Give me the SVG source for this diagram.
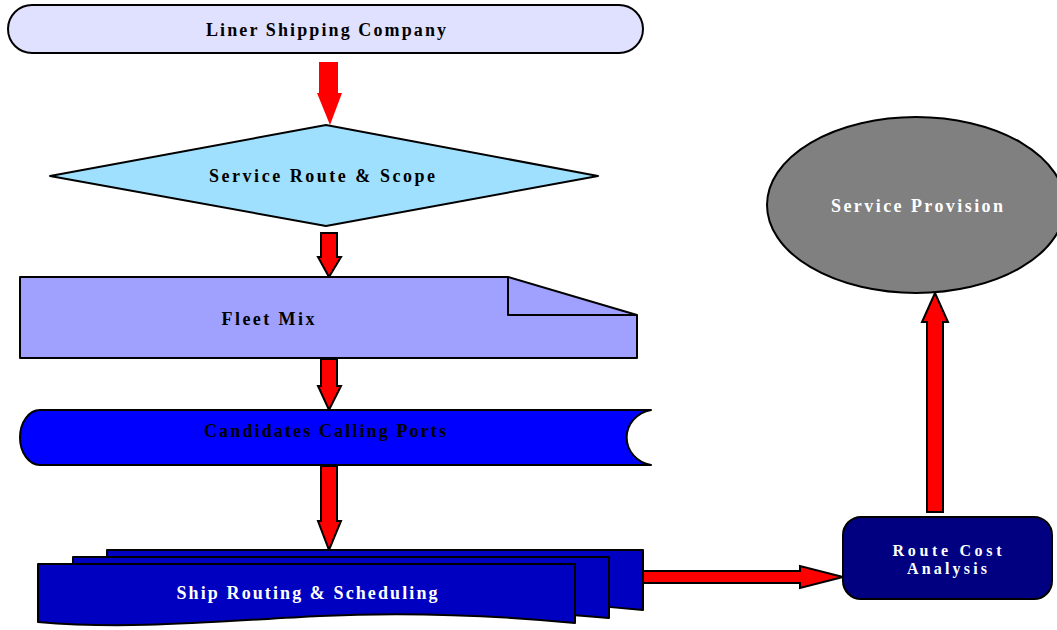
<svg xmlns="http://www.w3.org/2000/svg" width="1057" height="630" viewBox="0 0 1057 630">
<style>
.t{font-family:"Liberation Serif","Times New Roman",serif;font-weight:bold;font-size:18px;text-anchor:middle;dominant-baseline:central}
.r{font-size:16px}
.k{fill:#000}
.w{fill:#fff}
.s{stroke:#000;stroke-width:2;stroke-linejoin:round}
.a{fill:#ff0000;stroke:#000;stroke-width:2;stroke-linejoin:miter}
</style>
<rect width="1057" height="630" fill="#fff"/>
<g id="connectors">
<polygon fill="#ff0000" points="319,62 338,62 338,93 342,93 330,125 317,93 319,93"/>
<polygon class="a" points="321,233 337,233 337,257 341,257 329,277 318,257 321,257"/>
<polygon class="a" points="321,359 337,359 337,386 341,386 329,410 318,386 321,386"/>
<polygon class="a" points="321,466 337,466 337,521 341,521 329,550 318,521 321,521"/>
<polygon class="a" points="643,571 800,571 800,566 843,577 800,588 800,583 643,583"/>
<polygon class="a" points="927,512 943,512 943,322 948,322 935,293 922,322 927,322"/>
</g>
<g id="liner">
<rect class="s" x="8" y="5" width="635" height="48" rx="24" fill="#e0e0ff"/>
<text class="t k" x="326" y="30" textLength="240" lengthAdjust="spacing">Liner Shipping Company</text>
</g>
<g id="route-scope">
<polygon class="s" points="50,176 326,125 598,176 326,226" fill="#a0e0ff"/>
<text class="t k" x="322" y="176" textLength="226" lengthAdjust="spacing">Service Route &amp; Scope</text>
</g>
<g id="fleet-mix">
<path class="s" d="M20,277 L508,277 L637,315 L637,358 L20,358 Z" fill="#a0a0ff"/>
<path class="s" d="M508,277 L508,315 L637,315" fill="none"/>
<text class="t k" x="268" y="319" textLength="93" lengthAdjust="spacing">Fleet Mix</text>
</g>
<g id="candidates">
<path class="s" d="M40,410 L651,410 A30 28 0 0 0 651,465 L40,465 A20 27.5 0 0 1 40,410 Z" fill="#0000ff"/>
<text class="t k" x="325" y="431" textLength="242" lengthAdjust="spacing">Candidates Calling Ports</text>
</g>
<g id="ship-routing">
<path class="s" d="M107,550 L643,550 L643,610 C560,602 500,600 420,603 L107,603 Z" fill="#0000c0"/>
<path class="s" d="M73,557 L609,557 L609,618 C520,610 460,608 380,611 L73,611 Z" fill="#0000c0"/>
<path class="s" d="M38,564 L575,564 L575,623 C480,614 400,612 320,616 C220,621 130,630 38,622 Z" fill="#0000c0"/>
<text class="t w" x="307" y="593" textLength="261" lengthAdjust="spacing">Ship Routing &amp; Scheduling</text>
</g>
<g id="route-cost">
<rect class="s" x="843" y="517" width="209" height="82" rx="18" fill="#000080"/>
<text class="t r w" x="947" y="550" textLength="109" lengthAdjust="spacing">Route Cost</text>
<text class="t r w" x="947" y="568" textLength="80" lengthAdjust="spacing">Analysis</text>
</g>
<g id="service-provision">
<ellipse class="s" cx="916" cy="205" rx="149" ry="88" fill="#808080"/>
<text class="t w" x="917" y="206" textLength="172" lengthAdjust="spacing">Service Provision</text>
</g>
</svg>
